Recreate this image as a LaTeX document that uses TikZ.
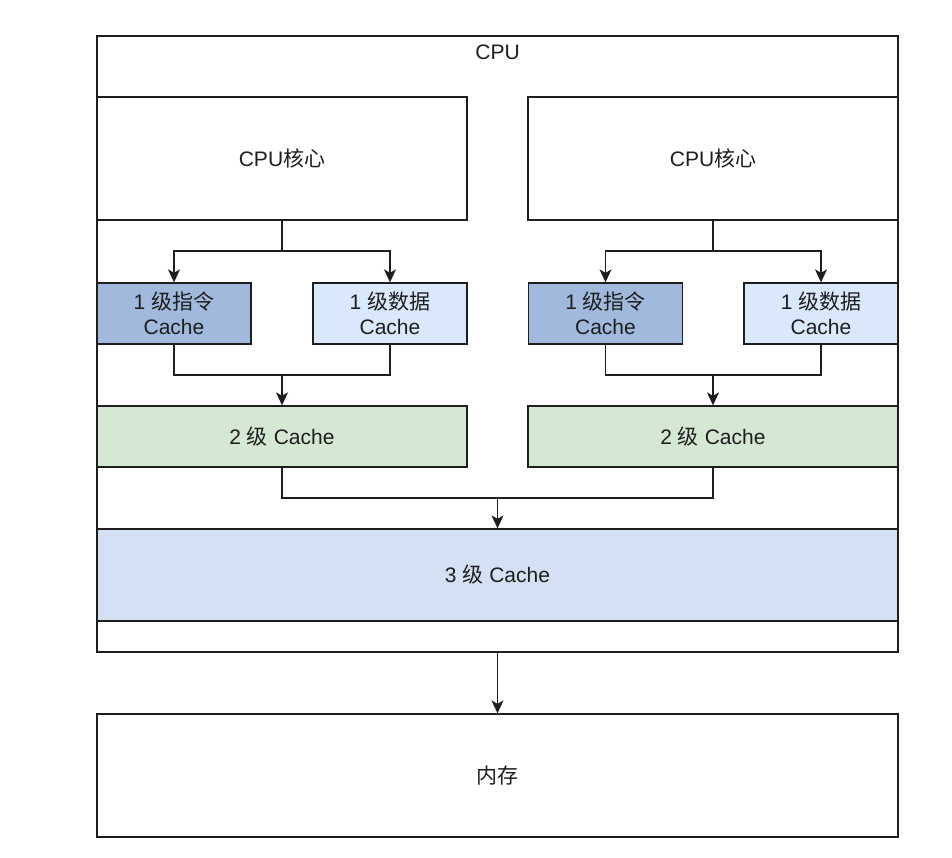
\documentclass[tikz,border=0pt]{standalone}
\usepackage{fontspec}
\setmainfont{Liberation Sans}
\newfontfamily\cjk{Noto Sans CJK SC}
\usepackage{tikz}
\usetikzlibrary{arrows.meta,positioning}

\definecolor{instfill}{HTML}{A0B9DC}
\definecolor{datafill}{HTML}{DAE8FC}
\definecolor{ltwofill}{HTML}{D5E8D4}
\definecolor{lthreefill}{HTML}{D4E1F5}
\definecolor{edgegray}{HTML}{1E1E1E}

\begin{document}
\begin{tikzpicture}[x=1pt,y=-1pt,>={Stealth[length=13pt,width=12pt,inset=3.5pt]},
	every node/.style={font=\fontsize{21}{25}\selectfont, text=edgegray},
	box/.style={draw=edgegray, line width=1.3pt, fill=white, inner sep=0pt, align=center},
	instbox/.style={box, fill=instfill, minimum width=154, minimum height=61},
	databox/.style={box, fill=datafill, minimum width=154, minimum height=61},
	ltwobox/.style={box, fill=ltwofill, minimum width=370, minimum height=61},
	wire/.style={draw=edgegray, line width=1.3pt}]
		\useasboundingbox (0,0) rectangle (952,857);

		\node[box, minimum width=801, minimum height=616] (cpu) at (497.5,344) {};
		\node (cputext) at (497.5,52) {CPU};

		\node[box, minimum width=370, minimum height=123] (lcore) at (282,158.5) {CPU{\cjk 核心}};
		\node[box, minimum width=370, minimum height=123] (rcore) at (713,158.5) {CPU{\cjk 核心}};

		\node[instbox] (linst) at (174,313.5) {1 {\cjk 级指令}\\Cache};
		\node[databox] (ldata) at (390,313.5) {1 {\cjk 级数据}\\Cache};
		\node[instbox] (rinst) at (605.5,313.5) {1 {\cjk 级指令}\\Cache};
		\node[databox] (rdata) at (821,313.5) {1 {\cjk 级数据}\\Cache};

		\node[ltwobox] (ltwol) at (282,436.5) {2 {\cjk 级} Cache};
		\node[ltwobox] (ltwor) at (713,436.5) {2 {\cjk 级} Cache};

		\node[box, fill=lthreefill, minimum width=801, minimum height=92] (lthree) at (497.5,575) {3 {\cjk 级} Cache};

		\node[box, minimum width=801, minimum height=123] (mem) at (497.5,775.5) {\cjk 内存};

		\coordinate (lsplit) at (282,251);
		\coordinate (rsplit) at (713,251);
		\coordinate (ljoin) at (282,375);
		\coordinate (rjoin) at (713,375);
		\coordinate (cjoin) at (497.5,498);

		\path[wire]
		(lcore.south) -- (lsplit)
		(rcore.south) -- (rsplit)
		(linst.south) |- (ljoin) -| (ldata.south)
		(rinst.south) |- (rjoin) -| (rdata.south)
		(ltwol.south) |- (cjoin) -| (ltwor.south);

		\path[wire,->]
		(lsplit) -| (linst.north);
		\path[wire,->]
		(lsplit) -| (ldata.north);
		\path[wire,->]
		(rsplit) -| (rinst.north);
		\path[wire,->]
		(rsplit) -| (rdata.north);
		\path[wire,->] (ljoin) -- (ltwol.north);
		\path[wire,->] (rjoin) -- (ltwor.north);
		\path[wire,->] (cjoin) -- (lthree.north);
		\path[wire,->] (cpu.south) -- (mem.north);
	\end{tikzpicture}
\end{document}
